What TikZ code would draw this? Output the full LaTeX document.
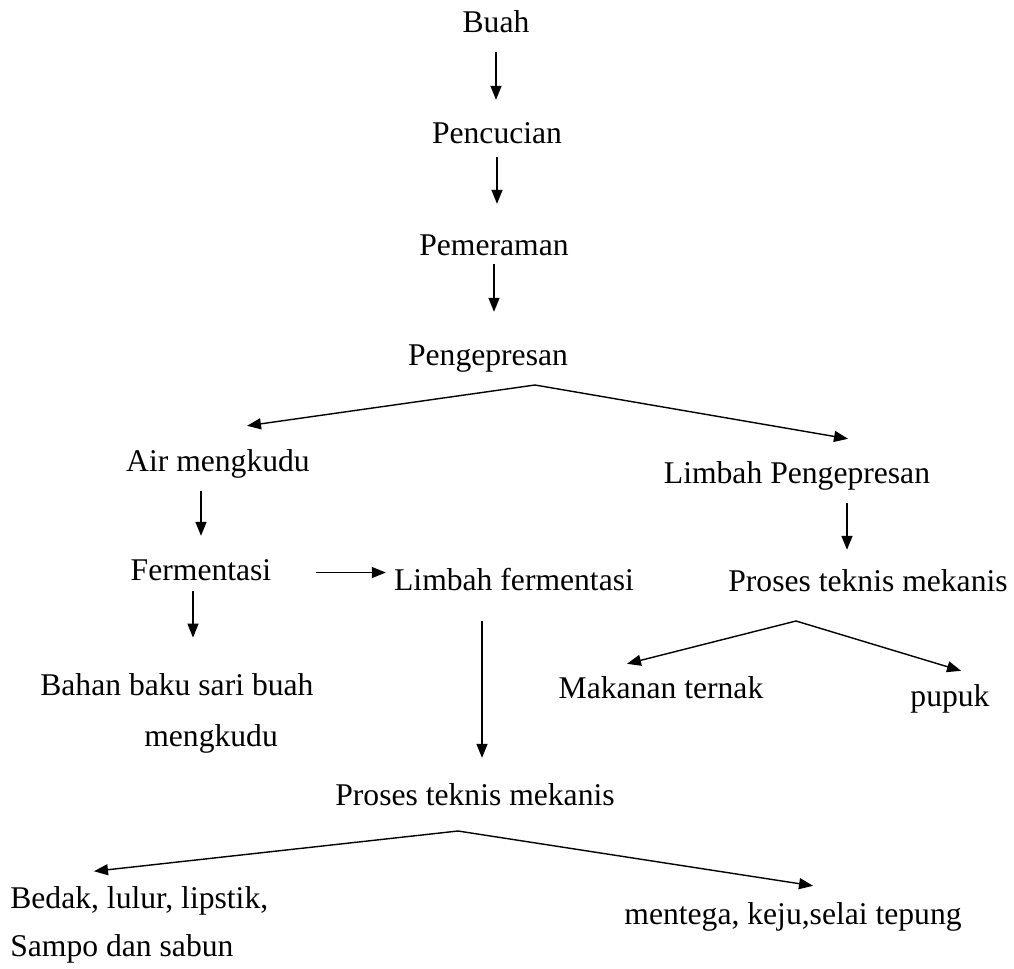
\documentclass[tikz,border=0pt]{standalone}
\usepackage{fontspec}
\setmainfont{Liberation Serif}
\usepackage{tikz}
\usetikzlibrary{arrows.meta}

\begin{document}
\begin{tikzpicture}[
    x=0.02cm, y=-0.02cm,
    txt/.style={inner sep=0pt, font=\fontsize{18}{27}\selectfont},
    lbl/.style={txt, anchor=base, text height=13pt, text depth=4.5pt},
    arrow/.style={-{Triangle[length=0.28cm, width=0.22cm]}, line width=0.8pt, draw=black}
  ]
    \useasboundingbox (0,0) rectangle (1014,969);

    % Main line
    \node[lbl] (buah) at (496,33) {Buah};
    \node[lbl] (pencucian) at (497,144) {Pencucian};
    \node[lbl] (pemeraman) at (494,256) {Pemeraman};
    \node[lbl] (pengepresan) at (488,366) {Pengepresan};

    % Juice branch
    \node[lbl] (air) at (218,471) {Air mengkudu};
    \node[lbl] (ferm) at (201,580) {Fermentasi};
    \node[lbl] (limbahF) at (514,590) {Limbah fermentasi};
    \node[txt, align=left, anchor=base west] (bahan) at (40,746) {Bahan baku sari buah\\[1.5pt]\hspace*{2.08cm}mengkudu};
    \node[lbl] (prosesB) at (475,805) {Proses teknis mekanis};
    \node[txt, align=left, anchor=base west] (bedak) at (10,956) {Bedak, lulur, lipstik,\\Sampo dan sabun};
    \node[lbl] (mentega) at (793,924) {mentega, keju,selai tepung};

    % Waste branch
    \node[lbl] (limbahP) at (797,483) {Limbah Pengepresan};
    \node[lbl] (prosesR) at (868,591) {Proses teknis mekanis};
    \node[lbl] (makanan) at (661,698) {Makanan ternak};
    \node[lbl] (pupuk) at (950,706) {pupuk};

    % Split points
    \coordinate (split1) at (535,385);
    \coordinate (split2) at (796,621);
    \coordinate (split3) at (458,831);

    % Connections
    \draw[arrow, shorten <=0.22cm, shorten >=0.42cm] (buah) -- (buah |- pencucian.north);
    \draw[arrow, shorten <=0.1cm, shorten >=0.58cm] (pencucian) -- (pencucian |- pemeraman.north);
    \draw[arrow, shorten >=0.62cm] (pemeraman) -- (pemeraman |- pengepresan.north);

    \draw[arrow] (split1) -- ([shift={(29,-22)}]air.north);
    \draw[arrow] (split1) -- ([shift={(51,-21)}]limbahP.north);

    \draw[arrow, shorten <=0.24cm, shorten >=0.42cm] (air.south -| ferm) -- (ferm);
    \draw[arrow, shorten <=0.88cm, shorten >=0.16cm] (ferm.east) -- (ferm.east -| limbahF.west);
    \draw[arrow, shorten <=0.06cm, shorten >=0.72cm] ([xshift=-0.16cm]ferm.south) -- ([xshift=-0.16cm]ferm.south |- bahan.north);
    \draw[arrow, shorten <=0.46cm, shorten >=0.48cm] ([xshift=0.14cm]prosesB.north |- limbahF.south) -- ([xshift=0.14cm]prosesB.north);

    \draw[arrow] (split3) -- ([shift={(84,-15)}]bedak.north west);
    \draw[arrow] (split3) -- ([shift={(20,-15)}]mentega.north);

    \draw[arrow, shorten <=0.24cm, shorten >=0.36cm] ([xshift=1cm]limbahP.south) -- ([xshift=1cm]limbahP.south |- prosesR.north);
    \draw[arrow] (split2) -- ([shift={(-34,-11)}]makanan.north);
    \draw[arrow] (split2) -- ([shift={(11,-12)}]pupuk.north);

\end{tikzpicture}
\end{document}
